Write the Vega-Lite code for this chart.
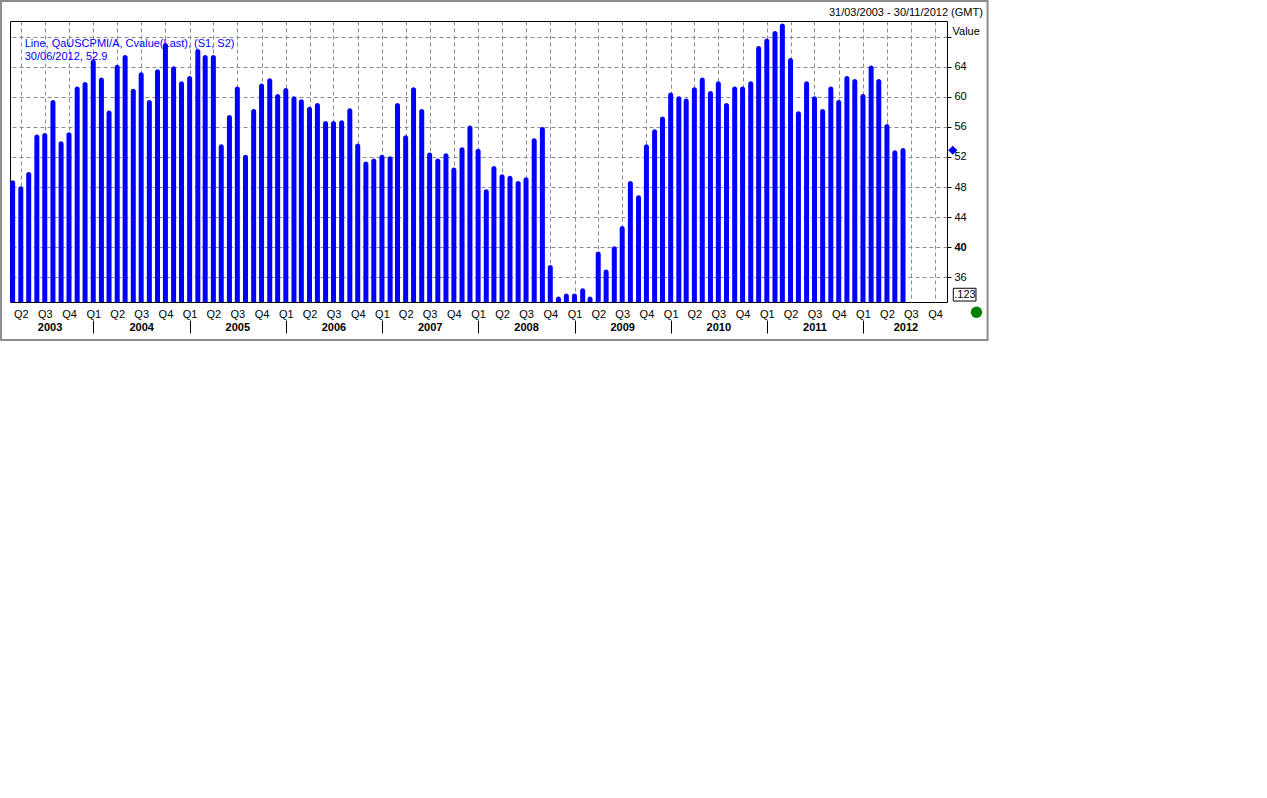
{
  "$schema": "https://vega.github.io/schema/vega-lite/v6.json",
  "width": 937,
  "height": 281,
  "autosize": {"type": "none"},
  "padding": {"left": 10, "top": 21, "right": 320, "bottom": 496},
  "background": "white",
  "config": {
    "view": {"stroke": "black", "strokeWidth": 1},
    "font": "Liberation Sans",
    "axis": {"labelFont": "Liberation Sans", "titleFont": "Liberation Sans", "labelColor": "black", "titleColor": "black"}
  },
  "datasets": {
    "pmi": [
      {"date": "2003-03-01", "value": 48.9}, {"date": "2003-04-01", "value": 48.1}, {"date": "2003-05-01", "value": 50.0}, {"date": "2003-06-01", "value": 55.0}, {"date": "2003-07-01", "value": 55.2}, {"date": "2003-08-01", "value": 59.6}, {"date": "2003-09-01", "value": 54.1}, {"date": "2003-10-01", "value": 55.3}, {"date": "2003-11-01", "value": 61.4}, {"date": "2003-12-01", "value": 62.0},
      {"date": "2004-01-01", "value": 65.0}, {"date": "2004-02-01", "value": 62.6}, {"date": "2004-03-01", "value": 58.2}, {"date": "2004-04-01", "value": 64.3}, {"date": "2004-05-01", "value": 65.6}, {"date": "2004-06-01", "value": 61.1}, {"date": "2004-07-01", "value": 63.3}, {"date": "2004-08-01", "value": 59.6}, {"date": "2004-09-01", "value": 63.7}, {"date": "2004-10-01", "value": 67.2}, {"date": "2004-11-01", "value": 64.1}, {"date": "2004-12-01", "value": 62.1},
      {"date": "2005-01-01", "value": 62.8}, {"date": "2005-02-01", "value": 66.4}, {"date": "2005-03-01", "value": 65.6}, {"date": "2005-04-01", "value": 65.6}, {"date": "2005-05-01", "value": 53.7}, {"date": "2005-06-01", "value": 57.6}, {"date": "2005-07-01", "value": 61.4}, {"date": "2005-08-01", "value": 52.3}, {"date": "2005-09-01", "value": 58.4}, {"date": "2005-10-01", "value": 61.8}, {"date": "2005-11-01", "value": 62.5}, {"date": "2005-12-01", "value": 60.4},
      {"date": "2006-01-01", "value": 61.2}, {"date": "2006-02-01", "value": 60.1}, {"date": "2006-03-01", "value": 59.7}, {"date": "2006-04-01", "value": 58.7}, {"date": "2006-05-01", "value": 59.2}, {"date": "2006-06-01", "value": 56.8}, {"date": "2006-07-01", "value": 56.8}, {"date": "2006-08-01", "value": 56.9}, {"date": "2006-09-01", "value": 58.5}, {"date": "2006-10-01", "value": 53.8}, {"date": "2006-11-01", "value": 51.4}, {"date": "2006-12-01", "value": 51.8},
      {"date": "2007-01-01", "value": 52.3}, {"date": "2007-02-01", "value": 52.1}, {"date": "2007-03-01", "value": 59.2}, {"date": "2007-04-01", "value": 54.9}, {"date": "2007-05-01", "value": 61.3}, {"date": "2007-06-01", "value": 58.4}, {"date": "2007-07-01", "value": 52.6}, {"date": "2007-08-01", "value": 51.8}, {"date": "2007-09-01", "value": 52.5}, {"date": "2007-10-01", "value": 50.6}, {"date": "2007-11-01", "value": 53.3}, {"date": "2007-12-01", "value": 56.2},
      {"date": "2008-01-01", "value": 53.1}, {"date": "2008-02-01", "value": 47.7}, {"date": "2008-03-01", "value": 50.8}, {"date": "2008-04-01", "value": 49.7}, {"date": "2008-05-01", "value": 49.5}, {"date": "2008-06-01", "value": 48.8}, {"date": "2008-07-01", "value": 49.3}, {"date": "2008-08-01", "value": 54.5}, {"date": "2008-09-01", "value": 56.0}, {"date": "2008-10-01", "value": 37.6}, {"date": "2008-11-01", "value": 33.4}, {"date": "2008-12-01", "value": 33.8},
      {"date": "2009-01-01", "value": 33.8}, {"date": "2009-02-01", "value": 34.5}, {"date": "2009-03-01", "value": 33.4}, {"date": "2009-04-01", "value": 39.4}, {"date": "2009-05-01", "value": 37.0}, {"date": "2009-06-01", "value": 40.1}, {"date": "2009-07-01", "value": 42.8}, {"date": "2009-08-01", "value": 48.8}, {"date": "2009-09-01", "value": 46.9}, {"date": "2009-10-01", "value": 53.7}, {"date": "2009-11-01", "value": 55.7}, {"date": "2009-12-01", "value": 57.4},
      {"date": "2010-01-01", "value": 60.6}, {"date": "2010-02-01", "value": 60.1}, {"date": "2010-03-01", "value": 59.8}, {"date": "2010-04-01", "value": 61.3}, {"date": "2010-05-01", "value": 62.6}, {"date": "2010-06-01", "value": 60.8}, {"date": "2010-07-01", "value": 62.1}, {"date": "2010-08-01", "value": 59.2}, {"date": "2010-09-01", "value": 61.4}, {"date": "2010-10-01", "value": 61.4}, {"date": "2010-11-01", "value": 62.1}, {"date": "2010-12-01", "value": 66.8},
      {"date": "2011-01-01", "value": 67.8}, {"date": "2011-02-01", "value": 68.8}, {"date": "2011-03-01", "value": 69.8}, {"date": "2011-04-01", "value": 65.2}, {"date": "2011-05-01", "value": 58.1}, {"date": "2011-06-01", "value": 62.1}, {"date": "2011-07-01", "value": 60.1}, {"date": "2011-08-01", "value": 58.4}, {"date": "2011-09-01", "value": 61.4}, {"date": "2011-10-01", "value": 59.6}, {"date": "2011-11-01", "value": 62.8}, {"date": "2011-12-01", "value": 62.4},
      {"date": "2012-01-01", "value": 60.4}, {"date": "2012-02-01", "value": 64.2}, {"date": "2012-03-01", "value": 62.4}, {"date": "2012-04-01", "value": 56.4}, {"date": "2012-05-01", "value": 52.9}, {"date": "2012-06-01", "value": 53.2}
    ],
    "one": [{"label": "single"}]
  },
  "layer": [
    {
      "data": {"name": "pmi"},
      "mark": {"type": "bar", "color": "#0000ff", "width": 5, "cornerRadiusTopLeft": 2.5, "cornerRadiusTopRight": 2.5},
      "encoding": {
        "x": {
          "field": "date", "type": "temporal",
          "scale": {"type": "utc", "nice": false, "padding": 0, "domain": [{"year": 2003, "month": 2, "date": 19, "utc": true}, {"year": 2012, "month": 11, "date": 15, "utc": true}]},
          "axis": {
            "orient": "bottom", "title": null, "domain": false, "ticks": false,
            "values": [
              {"year": 2003, "month": 4, "date": 1, "utc": true}, {"year": 2003, "month": 7, "date": 1, "utc": true}, {"year": 2003, "month": 10, "date": 1, "utc": true},
              {"year": 2004, "month": 1, "date": 1, "utc": true}, {"year": 2004, "month": 4, "date": 1, "utc": true}, {"year": 2004, "month": 7, "date": 1, "utc": true}, {"year": 2004, "month": 10, "date": 1, "utc": true},
              {"year": 2005, "month": 1, "date": 1, "utc": true}, {"year": 2005, "month": 4, "date": 1, "utc": true}, {"year": 2005, "month": 7, "date": 1, "utc": true}, {"year": 2005, "month": 10, "date": 1, "utc": true},
              {"year": 2006, "month": 1, "date": 1, "utc": true}, {"year": 2006, "month": 4, "date": 1, "utc": true}, {"year": 2006, "month": 7, "date": 1, "utc": true}, {"year": 2006, "month": 10, "date": 1, "utc": true},
              {"year": 2007, "month": 1, "date": 1, "utc": true}, {"year": 2007, "month": 4, "date": 1, "utc": true}, {"year": 2007, "month": 7, "date": 1, "utc": true}, {"year": 2007, "month": 10, "date": 1, "utc": true},
              {"year": 2008, "month": 1, "date": 1, "utc": true}, {"year": 2008, "month": 4, "date": 1, "utc": true}, {"year": 2008, "month": 7, "date": 1, "utc": true}, {"year": 2008, "month": 10, "date": 1, "utc": true},
              {"year": 2009, "month": 1, "date": 1, "utc": true}, {"year": 2009, "month": 4, "date": 1, "utc": true}, {"year": 2009, "month": 7, "date": 1, "utc": true}, {"year": 2009, "month": 10, "date": 1, "utc": true},
              {"year": 2010, "month": 1, "date": 1, "utc": true}, {"year": 2010, "month": 4, "date": 1, "utc": true}, {"year": 2010, "month": 7, "date": 1, "utc": true}, {"year": 2010, "month": 10, "date": 1, "utc": true},
              {"year": 2011, "month": 1, "date": 1, "utc": true}, {"year": 2011, "month": 4, "date": 1, "utc": true}, {"year": 2011, "month": 7, "date": 1, "utc": true}, {"year": 2011, "month": 10, "date": 1, "utc": true},
              {"year": 2012, "month": 1, "date": 1, "utc": true}, {"year": 2012, "month": 4, "date": 1, "utc": true}, {"year": 2012, "month": 7, "date": 1, "utc": true}, {"year": 2012, "month": 10, "date": 1, "utc": true}
            ],
            "labelExpr": "'Q' + utcquarter(datum.value)",
            "labelFontSize": 11, "labelPadding": 6, "labelFlush": false, "labelOverlap": false, "labelBound": false,
            "grid": true, "gridColor": "#8a8a94", "gridDash": [4, 3], "gridWidth": 1, "gridOpacity": 1
          }
        },
        "y": {
          "field": "value", "type": "quantitative",
          "scale": {"domain": [32.67, 70.13], "zero": false, "nice": false},
          "axis": {
            "orient": "right", "values": [36, 40, 44, 48, 52, 56, 60, 64, 68],
            "labelExpr": "datum.value == 68 ? '' : datum.label",
            "labelFontSize": 11, "labelPadding": 3, "labelOverlap": false, "labelBound": false, "labelFlush": false,
            "labelFontWeight": {"condition": {"test": "datum.value == 40", "value": "bold"}, "value": "normal"},
            "domain": false, "ticks": true, "tickSize": 4, "tickColor": "black",
            "grid": true, "gridColor": "#8a8a94", "gridDash": [4, 3], "gridWidth": 1, "gridOpacity": 1,
            "title": "Value", "titleAngle": 0, "titleX": 5, "titleY": 10, "titleAlign": "left", "titleBaseline": "middle",
            "titleFontWeight": "normal", "titleFontSize": 11
          }
        },
        "y2": {"datum": 32.67}
      }
    },
    {
      "data": {"name": "pmi"},
      "mark": {"type": "point", "opacity": 0},
      "encoding": {
        "x": {
          "field": "date", "type": "temporal",
          "scale": {"type": "utc", "nice": false, "padding": 0, "domain": [{"year": 2003, "month": 2, "date": 19, "utc": true}, {"year": 2012, "month": 11, "date": 15, "utc": true}]},
          "axis": {
            "orient": "bottom", "offset": 18, "title": null, "domain": false, "grid": false,
            "values": [
              {"year": 2003, "month": 7, "date": 19, "utc": true},
              {"year": 2004, "month": 1, "date": 1, "utc": true}, {"year": 2004, "month": 7, "date": 1, "utc": true},
              {"year": 2005, "month": 1, "date": 1, "utc": true}, {"year": 2005, "month": 7, "date": 1, "utc": true},
              {"year": 2006, "month": 1, "date": 1, "utc": true}, {"year": 2006, "month": 7, "date": 1, "utc": true},
              {"year": 2007, "month": 1, "date": 1, "utc": true}, {"year": 2007, "month": 7, "date": 1, "utc": true},
              {"year": 2008, "month": 1, "date": 1, "utc": true}, {"year": 2008, "month": 7, "date": 1, "utc": true},
              {"year": 2009, "month": 1, "date": 1, "utc": true}, {"year": 2009, "month": 7, "date": 1, "utc": true},
              {"year": 2010, "month": 1, "date": 1, "utc": true}, {"year": 2010, "month": 7, "date": 1, "utc": true},
              {"year": 2011, "month": 1, "date": 1, "utc": true}, {"year": 2011, "month": 7, "date": 1, "utc": true},
              {"year": 2012, "month": 1, "date": 1, "utc": true}, {"year": 2012, "month": 6, "date": 10, "utc": true}
            ],
            "labelExpr": "utcmonth(datum.value) == 0 ? '' : '' + utcyear(datum.value)",
            "labelFontSize": 11, "labelFontWeight": "bold", "labelPadding": -11.5,
            "labelFlush": false, "labelOverlap": false, "labelBound": false,
            "ticks": true, "tickSize": 13, "tickWidth": 1,
            "tickColor": {"condition": {"test": "utcmonth(datum.value) == 0", "value": "black"}, "value": "transparent"}
          }
        }
      }
    },
    {
      "data": {"name": "one"},
      "layer": [
        {
          "mark": {"type": "rect", "filled": false, "stroke": "#8c8c8c", "strokeWidth": 2},
          "encoding": {
            "x": {"datum": {"year": 2003, "month": 1, "date": 16, "utc": true}, "type": "temporal", "scale": {"type": "utc", "nice": false, "padding": 0, "domain": [{"year": 2003, "month": 2, "date": 19, "utc": true}, {"year": 2012, "month": 11, "date": 15, "utc": true}]}, "axis": null},
            "x2": {"datum": {"year": 2013, "month": 4, "date": 18, "utc": true}},
            "y": {"datum": 72.8, "type": "quantitative", "scale": {"domain": [32.67, 70.13], "zero": false, "nice": false}, "axis": null},
            "y2": {"datum": 27.6}
          }
        },
        {
          "mark": {"type": "rect", "filled": false, "stroke": "black", "strokeWidth": 1},
          "encoding": {
            "x": {"datum": {"year": 2012, "month": 12, "date": 9, "utc": true}, "type": "temporal", "scale": {"type": "utc", "nice": false, "padding": 0, "domain": [{"year": 2003, "month": 2, "date": 19, "utc": true}, {"year": 2012, "month": 11, "date": 15, "utc": true}]}, "axis": null},
            "x2": {"datum": {"year": 2013, "month": 3, "date": 5, "utc": true}},
            "y": {"datum": 34.5, "type": "quantitative", "scale": {"domain": [32.67, 70.13], "zero": false, "nice": false}, "axis": null},
            "y2": {"datum": 32.8}
          }
        },
        {
          "mark": {"type": "text", "color": "black", "fontSize": 11, "align": "center", "baseline": "middle", "text": ".123"},
          "encoding": {
            "x": {"datum": {"year": 2013, "month": 1, "date": 22, "utc": true}, "type": "temporal", "scale": {"type": "utc", "nice": false, "padding": 0, "domain": [{"year": 2003, "month": 2, "date": 19, "utc": true}, {"year": 2012, "month": 11, "date": 15, "utc": true}]}, "axis": null},
            "y": {"datum": 33.65, "type": "quantitative", "scale": {"domain": [32.67, 70.13], "zero": false, "nice": false}, "axis": null}
          }
        },
        {
          "mark": {"type": "text", "color": "#0000ff", "fontSize": 11, "align": "left", "baseline": "middle", "text": "Line, QaUSCPMI/A, Cvalue(Last), (S1, S2)"},
          "encoding": {
            "x": {"datum": {"year": 2003, "month": 4, "date": 16, "utc": true}, "type": "temporal", "scale": {"type": "utc", "nice": false, "padding": 0, "domain": [{"year": 2003, "month": 2, "date": 19, "utc": true}, {"year": 2012, "month": 11, "date": 15, "utc": true}]}, "axis": null},
            "y": {"datum": 67.07, "type": "quantitative", "scale": {"domain": [32.67, 70.13], "zero": false, "nice": false}, "axis": null}
          }
        },
        {
          "mark": {"type": "text", "color": "#0000ff", "fontSize": 11, "align": "left", "baseline": "middle", "text": "30/06/2012, 52.9"},
          "encoding": {
            "x": {"datum": {"year": 2003, "month": 4, "date": 16, "utc": true}, "type": "temporal", "scale": {"type": "utc", "nice": false, "padding": 0, "domain": [{"year": 2003, "month": 2, "date": 19, "utc": true}, {"year": 2012, "month": 11, "date": 15, "utc": true}]}, "axis": null},
            "y": {"datum": 65.27, "type": "quantitative", "scale": {"domain": [32.67, 70.13], "zero": false, "nice": false}, "axis": null}
          }
        },
        {
          "mark": {"type": "text", "color": "black", "fontSize": 11, "align": "right", "baseline": "middle", "text": "31/03/2003 - 30/11/2012 (GMT)"},
          "encoding": {
            "x": {"datum": {"year": 2013, "month": 3, "date": 31, "utc": true}, "type": "temporal", "scale": {"type": "utc", "nice": false, "padding": 0, "domain": [{"year": 2003, "month": 2, "date": 19, "utc": true}, {"year": 2012, "month": 11, "date": 15, "utc": true}]}, "axis": null},
            "y": {"datum": 71.2, "type": "quantitative", "scale": {"domain": [32.67, 70.13], "zero": false, "nice": false}, "axis": null}
          }
        },
        {
          "mark": {"type": "point", "shape": "diamond", "filled": true, "color": "#0000ff", "size": 85, "opacity": 1},
          "encoding": {
            "x": {"datum": {"year": 2012, "month": 12, "date": 7, "utc": true}, "type": "temporal", "scale": {"type": "utc", "nice": false, "padding": 0, "domain": [{"year": 2003, "month": 2, "date": 19, "utc": true}, {"year": 2012, "month": 11, "date": 15, "utc": true}]}, "axis": null},
            "y": {"datum": 52.9, "type": "quantitative", "scale": {"domain": [32.67, 70.13], "zero": false, "nice": false}, "axis": null}
          }
        },
        {
          "mark": {"type": "point", "shape": "circle", "filled": true, "color": "#008000", "size": 130, "opacity": 1},
          "encoding": {
            "x": {"datum": {"year": 2013, "month": 3, "date": 7, "utc": true}, "type": "temporal", "scale": {"type": "utc", "nice": false, "padding": 0, "domain": [{"year": 2003, "month": 2, "date": 19, "utc": true}, {"year": 2012, "month": 11, "date": 15, "utc": true}]}, "axis": null},
            "y": {"datum": 31.3, "type": "quantitative", "scale": {"domain": [32.67, 70.13], "zero": false, "nice": false}, "axis": null}
          }
        }
      ]
    }
  ],
  "resolve": {"scale": {"x": "independent", "y": "independent"}, "axis": {"x": "independent", "y": "independent"}}
}
